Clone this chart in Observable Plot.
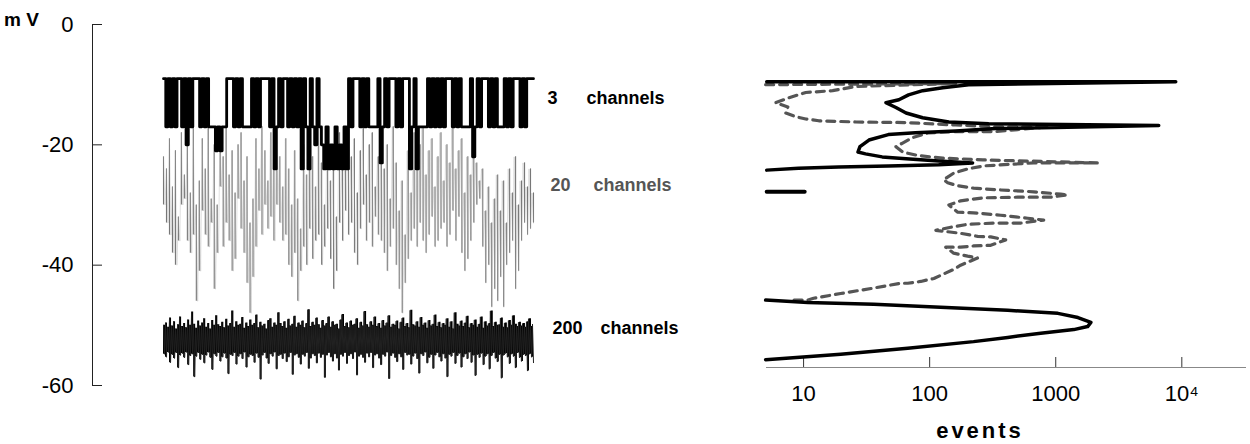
<!DOCTYPE html>
<html><head><meta charset="utf-8">
<script src="https://cdn.jsdelivr.net/npm/d3@7"></script>
<script src="https://cdn.jsdelivr.net/npm/@observablehq/plot@0.6"></script>
<style>
body{margin:0;background:#fff;}
#wrap{position:relative;width:1250px;height:444px;font-family:"Liberation Sans",Arial,sans-serif;overflow:hidden;}
#left{position:absolute;left:0;top:0;}
#right{position:absolute;left:700px;top:0;}
#mv{position:absolute;left:4px;top:10px;font-weight:bold;font-size:19px;line-height:1;}
#events{position:absolute;left:880px;width:200px;text-align:center;top:420px;font-weight:bold;font-size:22px;letter-spacing:3px;line-height:1;}
</style></head><body>
<div id="wrap"><div id="left"></div><div id="right"></div><div id="mv">m V</div><div id="events">events</div></div>
<script>
// ---- axis ticks ----
const yTicks = [0, -20, -40, -60];
const xTicks = [10, 100, 1000, 10000];
const xTickLabels = ["10", "100", "1000", "10⁴"];

// ---- trace labels ----
const traceNames = ["3", "20", "200"];
const traceLabelMV = [-12.3, -26.7, -50.5];

// ---- 3 channels trace (mV, equally spaced samples) ----
const ch3 = [-9,-17,-9,-17,-9,-17, -9,-9, -17,-9,-20,-9,-17, -9,-9,-9, -17,-9,-17,-9,
  -17,-17,-17, -21,-17,-21, -17,-17, -9,-9,-9, -17,-9,-17,-9,-17, -17,-17,-17,
  -9,-17,-9,-17,-9, -9,-9,-9, -17,-9,-24,-17,-9,-17, -9,-9, -17,-9,-17,-9,-17,
  -9,-24,-9,-17,-24, -9,-17,-20,-9,-17,
  -20,-24,-17,-24,-20,-24,-17,-24,-20,-24,-17,-24, -9,-17,-9, -9,-9,
  -17,-9,-17,-9,-17, -17,-17,-17, -9,-23,-17,-9,-17, -9,-9,-9, -17,-9,-17, -9,-9,-9,
  -24,-17,-9,-24,-17, -17,-17,-17, -9,-17,-9,-17,-9,-17,-9,-17, -9,-9,-9,
  -17,-9,-17,-9,-17, -17,-17,-17, -9,-22,-17,-9,-17, -9,-9,-9, -17,-9,-17,-9,
  -17,-17,-17, -9,-17,-9,-17, -9,-9,-9, -17,-9,-17, -9,-9,-9,-9];

// ---- 20 channels trace: consecutive (upper, lower) excursions ----
const ch20 = [-22,-30,-24,-33,-19,-35,-27,-38,-21,-40,-32,-36,-18,-30,-25,-29,-20,-36,-28,-38,-17,-35,-30,-46,-26,
  -41,-19,-31,-24,-35,-17,-37,-29,-33,-20,-44,-30,-38,-18,-27,-22,-37,-17,-33,-25,-36,-21,-41,-28,-39,
  -20,-29,-18,-34,-26,-38,-22,-43,-33,-48,-29,-42,-19,-37,-24,-31,-17,-35,-21,-30,-26,-34,-18,-32,-23,
  -36,-17,-30,-22,-33,-27,-36,-19,-35,-24,-40,-30,-42,-21,-38,-29,-46,-34,-41,-20,-37,-25,-40,-18,-34,
  -22,-39,-27,-36,-17,-35,-23,-40,-30,-37,-19,-34,-26,-39,-21,-44,-32,-41,-18,-33,-24,-36,-20,-31,-17,
  -35,-22,-33,-19,-38,-28,-40,-21,-34,-17,-30,-25,-36,-20,-33,-18,-37,-27,-32,-22,-35,-19,-36,-24,-38,
  -20,-41,-29,-37,-17,-34,-23,-40,-31,-44,-26,-48,-35,-43,-21,-39,-28,-36,-18,-34,-24,-37,-20,-33,-17,
  -36,-25,-38,-21,-35,-19,-32,-27,-37,-22,-36,-18,-34,-26,-33,-20,-37,-23,-35,-17,-31,-24,-36,-21,-32,
  -19,-38,-28,-41,-22,-39,-25,-36,-20,-33,-23,-30,-26,-29,-24,-37,-31,-43,-27,-40,-33,-47,-29,-44,-25,
  -46,-31,-42,-26,-47,-33,-40,-24,-38,-28,-36,-22,-44,-30,-41,-26,-36,-23,-33,-27,-35,-24,-34,-28,-33];

// ---- 200 channels trace: upper / lower excursion of each sample pair ----
const ch200hi = [-50,-49.6,-50.3,-48.8,-50.1,-49.4,-50.6,-49.9,-48.6,-50.2,
  -49.7,-50.4,-49.1,-50,-47.8,-49.8,-50.5,-49.3,-50.1,-49.6,
  -48.9,-50.3,-49.7,-50.6,-49.2,-50,-48.4,-49.9,-50.2,-49.5,
  -50.4,-49,-50.1,-49.7,-47.6,-50.3,-49.4,-50,-49.8,-48.7,
  -50.5,-49.6,-50.2,-49.1,-50,-49.7,-48.3,-50.4,-49.5,-50.1,
  -49.8,-50.6,-49.2,-48.9,-50.3,-49.6,-50,-47.9,-49.7,-50.2,
  -49.4,-50.5,-49,-50.1,-49.8,-48.5,-50.3,-49.6,-50,-49.3,
  -50.4,-49.7,-47.4,-50.2,-49.5,-50,-48.8,-49.9,-50.5,-49.2,
  -50.1,-49.7,-48.6,-50.3,-49.4,-50,-49.8,-50.6,-49.1,-48.2,
  -50.2,-49.6,-50.4,-49.3,-50,-49.8,-48.9,-50.5,-49.5,-50.1,
  -47.7,-49.9,-50.3,-49.4,-50,-48.6,-50.2,-49.7,-50.5,-49.2,
  -50.1,-49.6,-48.4,-50.3,-49.8,-50,-49.3,-50.6,-49.5,-48.8,
  -50.2,-49.7,-50.4,-47.5,-49.9,-50.1,-49.4,-50.3,-48.7,-50,
  -49.6,-50.5,-49.2,-50.1,-49.8,-48.3,-50.2,-49.5,-50.4,-49.7,
  -50,-48.9,-50.3,-49.4,-50.6,-47.9,-49.8,-50.1,-49.3,-50.2,
  -49.6,-48.5,-50.4,-49.7,-50,-49.1,-50.3,-49.8,-48.6,-50.5,
  -49.4,-50.1,-49.7,-47.6,-50.2,-49.5,-50,-49.9,-48.8,-50.3,
  -49.6,-50.4,-49.2,-50,-48.4,-49.8,-50.2,-49.5,-50.1,-49.7,
  -50.3,-49.4,-48.9,-50.2,-49.8];
const ch200lo = [-54.8,-55.3,-54.5,-56.2,-54.9,-55.5,-54.6,-57.1,-55,-54.7,
  -55.4,-54.5,-56.6,-55.1,-54.8,-58.6,-55.2,-54.6,-55.7,-54.9,
  -56.3,-55,-54.5,-55.4,-57.4,-54.8,-55.2,-54.6,-56,-55.3,
  -54.7,-55.5,-58.1,-54.9,-55.1,-54.6,-56.5,-55.2,-54.8,-55.6,
  -54.5,-57,-55.3,-54.9,-55.1,-56.2,-54.7,-55.4,-59,-55,
  -54.6,-55.5,-56.4,-54.8,-55.2,-54.5,-57.3,-55.1,-54.9,-55.6,
  -54.7,-56.1,-55.3,-54.6,-58.2,-55,-54.8,-55.4,-56.5,-54.9,
  -55.2,-54.6,-57.2,-55.5,-54.8,-55.1,-56.3,-54.7,-55.4,-54.9,
  -58.7,-55,-54.6,-55.3,-56,-54.8,-55.5,-57.5,-54.9,-55.2,
  -54.6,-56.4,-55.1,-54.8,-55.6,-54.5,-58.3,-55.2,-54.9,-55.4,
  -56.2,-54.7,-55.3,-54.6,-57.1,-55,-54.8,-55.5,-56.6,-54.9,
  -55.2,-54.5,-58.9,-55.1,-54.7,-55.4,-56.1,-54.8,-55.3,-57.4,
  -54.6,-55,-54.9,-56.5,-55.2,-54.7,-55.6,-58,-54.8,-55.1,
  -54.5,-56.3,-55.4,-54.9,-57.2,-55,-54.6,-55.3,-56,-54.8,
  -55.5,-58.6,-54.9,-55.2,-54.6,-56.4,-55.1,-54.7,-57,-55.3,
  -54.8,-55.6,-54.5,-56.2,-55,-58.4,-54.9,-55.4,-54.7,-56.6,
  -55.2,-54.8,-57.3,-55.1,-54.6,-55.5,-56.1,-54.9,-58.8,-55,
  -54.7,-55.3,-56.4,-54.8,-55.2,-57.1,-54.6,-55.4,-56,-54.9,
  -55.1,-57.6,-54.8,-55.3,-56.2];

// ---- amplitude histograms (events vs mV) ----
const hist3Count = [5.1,8950,204,127,88,68,57,45,54,65,88,142,294,6560,334,161,77,47,33,28,27,31,42,65,118,219,118,47,19,9.1,5.1];
const hist3MV = [-9.5,-9.5,-10,-10.5,-11,-11.7,-12.5,-13,-13.8,-14.7,-15.5,-16.2,-16.5,-16.8,-17.3,-17.7,-18,-18.3,-19.2,-20.3,-21.2,-21.5,-22,-22.3,-22.7,-23,-23.3,-23.5,-23.7,-23.9,-24.2];
const hist3bCount = [5.1, 10.2];
const hist3bMV = [-27.8, -27.8];
const hist200Count = [5,10.8,36,122,416,1040,1500,1900,1790,1390,760,416,223,67,19.7,5];
const hist200MV = [-45.8,-46.2,-46.5,-47,-47.5,-48,-48.7,-49.5,-50.2,-50.7,-51.3,-52,-52.7,-53.8,-54.8,-55.7];
const hist20Count = [5,161,26,17,10.4,7.6,6,7.5,7.2,8.6,10.4,13.2,26,65,161,334,880,334,161,98,73,61,54,61,82,
  127,264,2150,668,268,200,155,129,139,167,223,366,668,1096,1245,912,499,268,176,142,167,223,366,600,803,
  527,322,200,147,112,176,240,305,401,305,223,176,134,155,200,240,176,155,108,85,67,59,36,19.7,12,10.8,7.9];
const hist20MV = [-10,-9.8,-10.3,-11,-11.3,-12.2,-13,-13.7,-14.7,-15.3,-15.7,-16,-16.2,-16.3,-16.7,-17,-17,-17.8,-17.8,-18,
  -18.8,-19.7,-20.3,-21.2,-21.8,-22.2,-22.5,-23,-23,-23.5,-24,-24.7,-25.8,-26.3,-26.8,-27.2,-27.5,-27.8,-28.2,-28.3,
  -28.7,-28.7,-28.8,-29.3,-30,-31.2,-31.3,-31.7,-32.2,-32.5,-33,-33,-33.2,-33.7,-34.2,-34.7,-35.2,-35.3,-35.8,-36.7,
  -36.8,-37,-37,-38,-38.5,-38.8,-40,-40.7,-42.2,-42.7,-43,-43,-43.8,-44.7,-45.5,-45.8,-45.8];

// ---- build tables ----
const series = vals => vals.map((v, i) => ({t: i / (vals.length - 1), v}));
const ch20bars = d3.range(0, ch20.length - 1, 2).map((j, k, arr) => ({t: k / (arr.length - 1), a: ch20[j], b: ch20[j + 1]}));
const ch200 = ch200hi.flatMap((h, i) => [h, ch200lo[i]]);
const ch200band = ch200hi.map((h, i) => ({t: i / (ch200hi.length - 1), hi: h, lo: ch200lo[i]}));
const pairs = (xs, ys) => xs.map((x, i) => ({n: x, mv: ys[i]}));
const labels = traceNames.map((n, i) => ({n, mv: traceLabelMV[i], i}));

const font = '"Liberation Sans", Arial, sans-serif';
const numDx = [14, 17, 19], wordDx = [53, 60, 67];

const left = Plot.plot({
  width: 700, height: 444,
  marginLeft: 92, marginRight: 167, marginTop: 24, marginBottom: 59,
  x: {domain: [0, 1], insetLeft: 71, axis: null},
  y: {domain: [-60, 0], axis: null},
  style: {fontFamily: font, background: "white", overflow: "visible"},
  marks: [
    Plot.frame({anchor: "left", stroke: "#222"}),
    Plot.axisY(yTicks, {anchor: "left", tickSize: -10, tickPadding: 29, fontSize: 22, stroke: "#222",
      tickFormat: d => String(d), label: null}),
    Plot.ruleX(ch20bars, {x: "t", y1: "a", y2: "b", stroke: "#777", strokeWidth: 1.1}),
    Plot.line(series(ch20), {x: "t", y: "v", stroke: "#999", strokeWidth: 0.5, strokeOpacity: 0.6}),
    Plot.areaY(ch200band, {x: "t", y1: "hi", y2: "lo", fill: "black", curve: "step-after"}),
    Plot.line(series(ch200), {x: "t", y: "v", stroke: "#222", strokeWidth: 1}),
    Plot.line(series(ch3), {x: "t", y: "v", curve: "step-after", stroke: "black", strokeWidth: 2.8}),
    ...labels.map(d => Plot.text([d], {x: () => 1, y: "mv", text: "n", textAnchor: "start", dx: numDx[d.i],
      fontSize: 18, fontWeight: "bold", fill: d.i === 1 ? "#555" : "black"})),
    ...labels.map(d => Plot.text([d], {x: () => 1, y: "mv", text: () => "channels", textAnchor: "start", dx: wordDx[d.i],
      fontSize: 18, fontWeight: "bold", fill: d.i === 1 ? "#555" : "black"}))
  ]
});
document.getElementById("left").append(left);

const right = Plot.plot({
  width: 550, height: 444,
  marginLeft: 66, marginRight: 5, marginTop: 24, marginBottom: 77,
  x: {type: "log", domain: [5.08, 32000], axis: null},
  y: {domain: [-57, 0], axis: null},
  style: {fontFamily: font, background: "white", overflow: "visible"},
  marks: [
    Plot.frame({anchor: "bottom", stroke: "#888"}),
    Plot.axisX(xTicks, {anchor: "bottom", tickSize: -10, tickPadding: 28, fontSize: 22, stroke: "#333",
      tickFormat: d => xTickLabels[xTicks.indexOf(d)], label: null}),
    Plot.line(pairs(hist20Count, hist20MV), {x: "n", y: "mv", stroke: "#555", strokeWidth: 3.2, strokeDasharray: "8,6"}),
    Plot.line(pairs(hist3Count, hist3MV), {x: "n", y: "mv", stroke: "black", strokeWidth: 3.5}),
    Plot.line(pairs(hist3bCount, hist3bMV), {x: "n", y: "mv", stroke: "black", strokeWidth: 4}),
    Plot.line(pairs(hist200Count, hist200MV), {x: "n", y: "mv", stroke: "black", strokeWidth: 3.5}),
  ]
});
document.getElementById("right").append(right);
</script>
</body></html>
